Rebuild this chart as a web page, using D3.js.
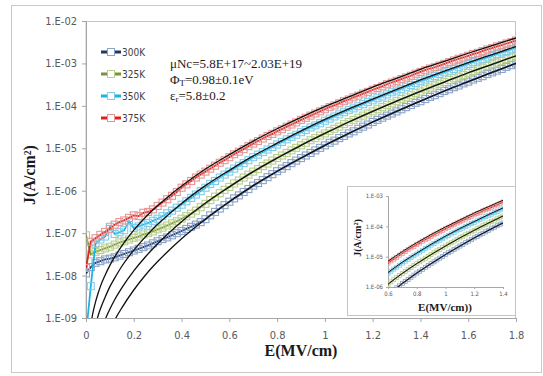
<!DOCTYPE html>
<html>
<head>
<meta charset="utf-8">
<script src="https://cdn.jsdelivr.net/npm/d3@7"></script>
<style>
  body { margin: 0; background: #fff; }
  svg { display: block; }
</style>
</head>
<body>
<div id="chart"></div>
<script>
// measured field points (MV/cm)
const fieldE = [
  0, 0.02, 0.04, 0.06, 0.08, 0.10, 0.12, 0.14, 0.16, 0.18,
  0.20, 0.22, 0.24, 0.26, 0.28, 0.30, 0.32, 0.34, 0.36, 0.38,
  0.40, 0.42, 0.44, 0.46, 0.48, 0.50, 0.52, 0.54, 0.56, 0.58,
  0.60, 0.62, 0.64, 0.66, 0.68, 0.70, 0.72, 0.74, 0.76, 0.78,
  0.80, 0.82, 0.84, 0.86, 0.88, 0.90, 0.92, 0.94, 0.96, 0.98,
  1.00, 1.02, 1.04, 1.06, 1.08, 1.10, 1.12, 1.14, 1.16, 1.18,
  1.20, 1.22, 1.24, 1.26, 1.28, 1.30, 1.32, 1.34, 1.36, 1.38,
  1.40, 1.42, 1.44, 1.46, 1.48, 1.50, 1.52, 1.54, 1.56, 1.58,
  1.60, 1.62, 1.64, 1.66, 1.68, 1.70, 1.72, 1.74, 1.76, 1.78,
  1.80
];

// measured current density, log10(J in A/cm2), one per fieldE point
const j300 = [
  -7.95, -7.80, -7.70, -7.66, -7.62, -7.60, -7.57, -7.53, -7.49, -7.45,
  -7.41, -7.37, -7.33, -7.29, -7.24, -7.19, -7.14, -7.10, -7.05, -7.00,
  -6.95, -6.90, -6.85, -6.80, -6.74, -6.67, -6.58, -6.50, -6.42, -6.34,
  -6.26, -6.18, -6.11, -6.03, -5.96, -5.88, -5.82, -5.75, -5.68, -5.61,
  -5.54, -5.48, -5.42, -5.35, -5.29, -5.23, -5.17, -5.11, -5.05, -4.99,
  -4.93, -4.87, -4.82, -4.76, -4.71, -4.65, -4.60, -4.54, -4.49, -4.44,
  -4.38, -4.33, -4.28, -4.23, -4.18, -4.13, -4.08, -4.03, -3.98, -3.93,
  -3.89, -3.84, -3.79, -3.75, -3.70, -3.65, -3.61, -3.56, -3.52, -3.47,
  -3.43, -3.38, -3.34, -3.30, -3.25, -3.21, -3.17, -3.13, -3.08, -3.04,
  -3.00
];
const j325 = [
  -7.05, -7.50, -7.44, -7.40, -7.36, -7.32, -7.27, -7.22, -7.19, -7.15,
  -7.11, -7.08, -7.03, -7.00, -6.96, -6.91, -6.87, -6.82, -6.77, -6.72,
  -6.66, -6.60, -6.54, -6.47, -6.39, -6.31, -6.22, -6.14, -6.06, -5.98,
  -5.91, -5.83, -5.76, -5.69, -5.62, -5.55, -5.49, -5.42, -5.36, -5.29,
  -5.23, -5.17, -5.11, -5.05, -4.99, -4.93, -4.87, -4.81, -4.76, -4.70,
  -4.65, -4.59, -4.54, -4.49, -4.43, -4.38, -4.33, -4.28, -4.23, -4.18,
  -4.13, -4.08, -4.03, -3.98, -3.94, -3.89, -3.84, -3.80, -3.75, -3.70,
  -3.66, -3.61, -3.57, -3.52, -3.48, -3.44, -3.39, -3.35, -3.31, -3.27,
  -3.22, -3.18, -3.14, -3.10, -3.06, -3.02, -2.98, -2.94, -2.90, -2.86,
  -2.82
];
const j350 = [
  -9.40, -8.25, -7.25, -7.15, -7.08, -6.85, -7.02, -6.98, -6.93, -6.72,
  -6.88, -6.84, -6.80, -6.76, -6.71, -6.66, -6.60, -6.53, -6.47, -6.40,
  -6.33, -6.25, -6.17, -6.09, -6.01, -5.93, -5.84, -5.77, -5.69, -5.62,
  -5.55, -5.48, -5.41, -5.35, -5.28, -5.21, -5.15, -5.09, -5.03, -4.97,
  -4.91, -4.85, -4.79, -4.73, -4.68, -4.62, -4.57, -4.51, -4.46, -4.41,
  -4.35, -4.30, -4.25, -4.20, -4.15, -4.10, -4.06, -4.01, -3.96, -3.91,
  -3.87, -3.82, -3.78, -3.73, -3.68, -3.64, -3.60, -3.55, -3.51, -3.46,
  -3.42, -3.38, -3.34, -3.30, -3.25, -3.21, -3.17, -3.13, -3.09, -3.05,
  -3.01, -2.97, -2.93, -2.90, -2.86, -2.82, -2.78, -2.74, -2.71, -2.67,
  -2.63
];
const j375 = [
  -7.82, -7.20, -7.12, -7.04, -6.97, -6.90, -6.80, -6.74, -6.70, -6.64,
  -6.58, -6.60, -6.52, -6.50, -6.44, -6.36, -6.28, -6.20, -6.12, -6.03,
  -5.93, -5.85, -5.77, -5.69, -5.62, -5.55, -5.48, -5.41, -5.34, -5.28,
  -5.21, -5.14, -5.08, -5.02, -4.95, -4.89, -4.83, -4.77, -4.71, -4.66,
  -4.60, -4.55, -4.49, -4.44, -4.39, -4.33, -4.28, -4.23, -4.18, -4.13,
  -4.08, -4.03, -3.99, -3.94, -3.89, -3.85, -3.80, -3.76, -3.71, -3.67,
  -3.62, -3.58, -3.54, -3.49, -3.45, -3.41, -3.37, -3.33, -3.29, -3.24,
  -3.20, -3.16, -3.12, -3.09, -3.05, -3.01, -2.97, -2.93, -2.89, -2.86,
  -2.82, -2.78, -2.75, -2.71, -2.67, -2.64, -2.60, -2.57, -2.53, -2.50,
  -2.46
];

// fitted curves (black), log10(J)
const fitE = [0.02, 0.03, 0.04, 0.05, 0.06, 0.08, 0.10, 0.12, 0.15, 0.20, 0.25, 0.30, 0.35, 0.40,
  0.50, 0.60, 0.70, 0.80, 0.90, 1.00, 1.10, 1.20, 1.30, 1.40, 1.50, 1.60, 1.70, 1.80];
const fit300 = [-10.84, -10.50, -10.25, -10.03, -9.85, -9.54, -9.28, -9.05, -8.76, -8.34, -7.98, -7.67, -7.39, -7.13,
  -6.67, -6.26, -5.88, -5.54, -5.23, -4.93, -4.65, -4.38, -4.13, -3.89, -3.65, -3.43, -3.21, -3.00];
const fit325 = [-10.30, -9.97, -9.72, -9.52, -9.34, -9.04, -8.79, -8.57, -8.29, -7.89, -7.55, -7.25, -6.98, -6.73,
  -6.29, -5.91, -5.55, -5.23, -4.93, -4.65, -4.38, -4.13, -3.89, -3.66, -3.44, -3.22, -3.02, -2.82];
const fit350 = [-9.72, -9.40, -9.16, -8.96, -8.79, -8.51, -8.26, -8.06, -7.78, -7.40, -7.08, -6.79, -6.54, -6.30,
  -5.88, -5.52, -5.18, -4.88, -4.59, -4.32, -4.07, -3.84, -3.61, -3.39, -3.18, -2.98, -2.79, -2.60];
const fit375 = [-9.15, -8.85, -8.62, -8.43, -8.26, -7.99, -7.76, -7.56, -7.30, -6.93, -6.62, -6.35, -6.11, -5.89,
  -5.49, -5.15, -4.83, -4.54, -4.27, -4.02, -3.79, -3.56, -3.35, -3.14, -2.95, -2.76, -2.58, -2.40];

const seriesNames = ["300K", "325K", "350K", "375K"];
const lineColors = ["#1f3864", "#77933c", "#1cb2e6", "#e0221b"];
const markerColors = ["#8aa3c9", "#b9cf8c", "#7fcdea", "#e69696"];

const yTicks = [1e-9, 1e-8, 1e-7, 1e-6, 1e-5, 1e-4, 1e-3, 1e-2];
const yTickLabels = ["1.E-09", "1.E-08", "1.E-07", "1.E-06", "1.E-05", "1.E-04", "1.E-03", "1.E-02"];
const xTicks = [0, 0.2, 0.4, 0.6, 0.8, 1, 1.2, 1.4, 1.6, 1.8];
const xTickLabels = ["0", "0.2", "0.4", "0.6", "0.8", "1", "1.2", "1.4", "1.6", "1.8"];
const insetXTicks = [0.6, 0.8, 1, 1.2, 1.4];
const insetXLabels = ["0.6", "0.8", "1", "1.2", "1.4"];
const insetYTicks = [1e-6, 1e-5, 1e-4, 1e-3];
const insetYLabels = ["1.E-06", "1.E-05", "1.E-04", "1.E-03"];

const width = 543, height = 376;
const plot = { left: 86, right: 516, top: 21, bottom: 318 };
const inset = { left: 388, right: 503, top: 196, bottom: 287 };
const narrow = "'Liberation Sans Narrow','DejaVu Sans Condensed',sans-serif";
const serif = "'Liberation Serif','Times New Roman',serif";

const measured = [j300, j325, j350, j375];
const fits = [fit300, fit325, fit350, fit375];

const svg = d3.select("#chart").append("svg")
    .attr("width", width)
    .attr("height", height);

svg.append("rect").attr("width", width).attr("height", height).attr("fill", "#fff");
// outer chart frame
svg.append("rect")
    .attr("x", 11.5).attr("y", 5.5)
    .attr("width", 530).attr("height", 367)
    .attr("fill", "none").attr("stroke", "#c9c9c9");

const x = d3.scaleLinear().domain([0, 1.8]).range([plot.left, plot.right]);
const y = d3.scaleLog().domain([1e-9, 1e-2]).range([plot.bottom, plot.top]);

const defs = svg.append("defs");
defs.append("clipPath").attr("id", "clip-main").append("rect")
    .attr("x", plot.left).attr("y", plot.top)
    .attr("width", plot.right - plot.left).attr("height", plot.bottom - plot.top);
defs.append("clipPath").attr("id", "clip-inset").append("rect")
    .attr("x", inset.left).attr("y", inset.top)
    .attr("width", inset.right - inset.left).attr("height", inset.bottom - inset.top);

// plot area border
svg.append("rect")
    .attr("x", plot.left).attr("y", plot.top + 0.5)
    .attr("width", plot.right - plot.left - 0.5).attr("height", plot.bottom - plot.top)
    .attr("fill", "none").attr("stroke", "#c4c4c4");

function styleAxis(g, size) {
    g.select(".domain").attr("stroke", "#a6a6a6");
    g.selectAll(".tick line").attr("stroke", "#a6a6a6");
    g.selectAll(".tick text")
        .attr("fill", "#595959")
        .style("font-family", narrow)
        .style("font-size", size + "px");
}

const yAxis = svg.append("g")
    .attr("transform", "translate(" + plot.left + ",0)")
    .call(d3.axisLeft(y).tickValues(yTicks).tickSize(4).tickPadding(5)
        .tickFormat((d, i) => yTickLabels[i]));
styleAxis(yAxis, 11);

const xAxis = svg.append("g")
    .attr("transform", "translate(0," + plot.bottom + ")")
    .call(d3.axisBottom(x).tickValues(xTicks).tickSize(4).tickPadding(9)
        .tickFormat((d, i) => xTickLabels[i]));
styleAxis(xAxis, 11);

// axis titles
svg.append("text")
    .attr("x", 301).attr("y", 356)
    .attr("text-anchor", "middle")
    .style("font-family", serif).style("font-weight", "bold").style("font-size", "16px")
    .attr("fill", "#1a1a1a")
    .text("E(MV/cm)");
svg.append("text")
    .attr("transform", "translate(35,175) rotate(-90)")
    .attr("text-anchor", "middle")
    .style("font-family", serif).style("font-weight", "bold").style("font-size", "16px")
    .attr("fill", "#1a1a1a")
    .text("J(A/cm²)");

function drawSeries(g, sx, sy, markerSize, lineWidth, fitWidth) {
    measured.forEach((vals, k) => {
        const pts = fieldE.map((e, i) => [e, Math.pow(10, vals[i])]);
        g.append("path")
            .datum(pts)
            .attr("fill", "none")
            .attr("stroke", lineColors[k])
            .attr("stroke-width", lineWidth)
            .attr("d", d3.line().x(d => sx(d[0])).y(d => sy(d[1])));
        g.append("g").selectAll("rect")
            .data(pts)
            .enter()
            .append("rect")
            .attr("x", d => sx(d[0]) - markerSize / 2)
            .attr("y", d => sy(d[1]) - markerSize / 2)
            .attr("width", markerSize)
            .attr("height", markerSize)
            .attr("fill", "none")
            .attr("stroke", markerColors[k])
            .attr("stroke-width", markerSize > 5 ? 1.1 : 0.8);
    });
    fits.forEach(vals => {
        const pts = fitE.map((e, i) => [e, Math.pow(10, vals[i])]);
        g.append("path")
            .datum(pts)
            .attr("fill", "none")
            .attr("stroke", "#111")
            .attr("stroke-width", fitWidth)
            .attr("d", d3.line().curve(d3.curveMonotoneX).x(d => sx(d[0])).y(d => sy(d[1])));
    });
}

const main = svg.append("g").attr("clip-path", "url(#clip-main)");
drawSeries(main, x, y, 7, 1.8, 1.3);

// legend
const legendY = d3.scaleBand().domain(seriesNames).range([41, 129]);
const legend = svg.append("g");
seriesNames.forEach((name, k) => {
    const cy = legendY(name) + legendY.bandwidth() / 2;
    legend.append("line")
        .attr("x1", 101).attr("x2", 121).attr("y1", cy).attr("y2", cy)
        .attr("stroke", lineColors[k]).attr("stroke-width", 3);
    legend.append("rect")
        .attr("x", 107.5).attr("y", cy - 3.5).attr("width", 7).attr("height", 7)
        .attr("fill", "#fff").attr("stroke", markerColors[k]).attr("stroke-width", 1);
    legend.append("text")
        .attr("x", 122).attr("y", cy + 3.5)
        .attr("fill", "#404040")
        .style("font-family", narrow).style("font-size", "10px")
        .text(name);
});

// fit parameters
const note = svg.append("g")
    .style("font-family", serif).style("font-size", "13px").attr("fill", "#1a1a1a");
note.append("text").attr("x", 170).attr("y", 68).text("μNc=5.8E+17~2.03E+19");
const t2 = note.append("text").attr("x", 170).attr("y", 84);
t2.append("tspan").text("Φ");
t2.append("tspan").attr("dy", 2).style("font-size", "9px").text("T");
t2.append("tspan").attr("dy", -2).text("=0.98±0.1eV");
const t3 = note.append("text").attr("x", 170).attr("y", 100);
t3.append("tspan").text("ε");
t3.append("tspan").attr("dy", 2).style("font-size", "9px").text("r");
t3.append("tspan").attr("dy", -2).text("=5.8±0.2");

// inset
svg.append("rect")
    .attr("x", 347.5).attr("y", 186.5)
    .attr("width", 168).attr("height", 129)
    .attr("fill", "#fff").attr("stroke", "#c4c4c4");

const xi = d3.scaleLinear().domain([0.6, 1.4]).range([inset.left, inset.right]);
const yi = d3.scaleLog().domain([1e-6, 1e-3]).range([inset.bottom, inset.top]);

const yiAxis = svg.append("g")
    .attr("transform", "translate(" + inset.left + ",0)")
    .call(d3.axisLeft(yi).tickValues(insetYTicks).tickSize(2).tickPadding(3)
        .tickFormat((d, i) => insetYLabels[i]));
styleAxis(yiAxis, 6);
const xiAxis = svg.append("g")
    .attr("transform", "translate(0," + inset.bottom + ")")
    .call(d3.axisBottom(xi).tickValues(insetXTicks).tickSize(2).tickPadding(3)
        .tickFormat((d, i) => insetXLabels[i]));
styleAxis(xiAxis, 6);

const insetG = svg.append("g").attr("clip-path", "url(#clip-inset)");
drawSeries(insetG, xi, yi, 4, 1.5, 1.0);

svg.append("text")
    .attr("x", 445).attr("y", 311)
    .attr("text-anchor", "middle")
    .style("font-family", serif).style("font-weight", "bold").style("font-size", "11px")
    .attr("fill", "#1a1a1a")
    .text("E(MV/cm))");
svg.append("text")
    .attr("transform", "translate(361,238) rotate(-90)")
    .attr("text-anchor", "middle")
    .style("font-family", serif).style("font-weight", "bold").style("font-size", "10px")
    .attr("fill", "#1a1a1a")
    .text("J(A/cm²)");
</script>
</body>
</html>
